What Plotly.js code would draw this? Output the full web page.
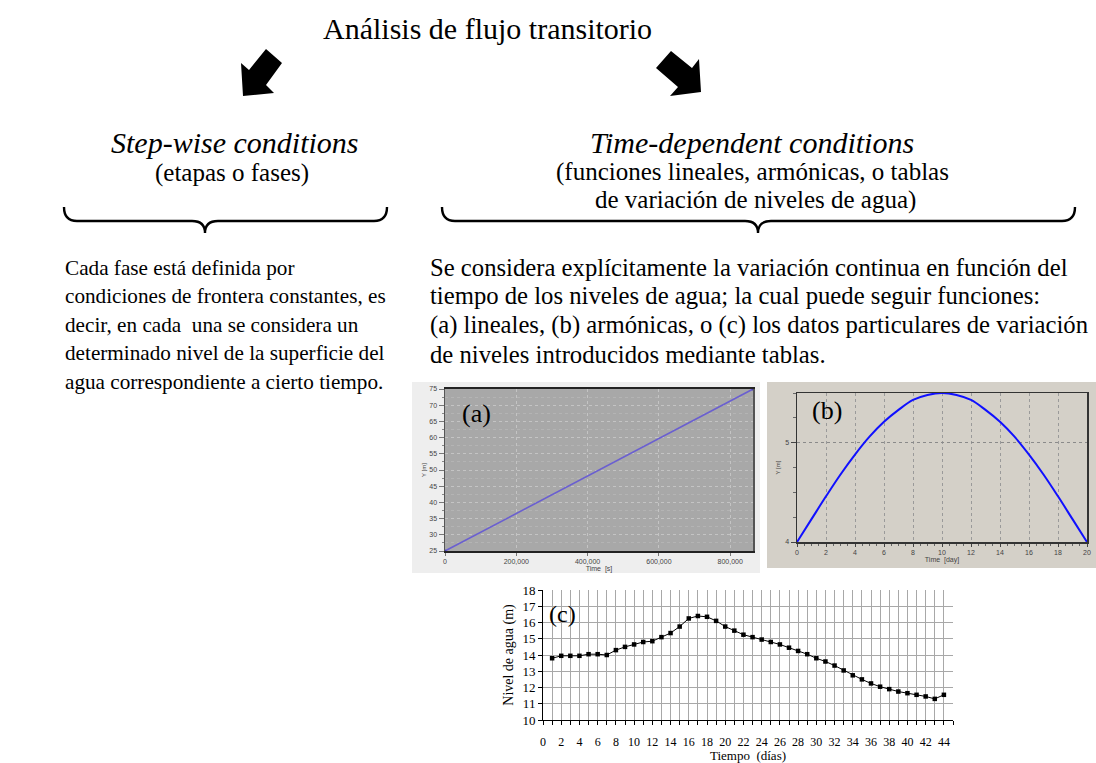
<!DOCTYPE html>
<html>
<head>
<meta charset="utf-8">
<script src="https://cdn.plot.ly/plotly-3.0.1.min.js"></script>
<style>html,body{margin:0;padding:0;background:#fff;}#chart{width:1096px;height:763px;}</style>
</head>
<body>
<div id="chart"></div>
<script>
// ---- data ----
// (a) linear function
const linTime = [0, 864000];
const linLevel = [25, 75];
// (b) harmonic function
const harmDays = [0,1,2,3,4,5,6,7,8,9,10,11,12,13,14,15,16,17,18,19,20];
const harmLevel = [4.00,4.23,4.46,4.68,4.88,5.06,5.21,5.33,5.43,5.48,5.50,5.48,5.43,5.33,5.21,5.06,4.88,4.68,4.46,4.23,4.00];
// (c) tabulated water levels
const tabDays = [1,2,3,4,5,6,7,8,9,10,11,12,13,14,15,16,17,18,19,20,21,22,23,24,25,26,27,28,29,30,31,32,33,34,35,36,37,38,39,40,41,42,43,44];
const tabLevel = [13.8,13.95,13.95,13.95,14.05,14.05,14.0,14.3,14.5,14.65,14.8,14.85,15.1,15.35,15.75,16.25,16.4,16.35,16.1,15.75,15.5,15.25,15.1,14.95,14.8,14.65,14.45,14.25,14.05,13.8,13.6,13.35,13.05,12.75,12.5,12.25,12.05,11.9,11.75,11.65,11.55,11.45,11.3,11.55];
const tabXTicks = [0,2,4,6,8,10,12,14,16,18,20,22,24,26,28,30,32,34,36,38,40,42,44];

const W = 1096, H = 763;
const fx = x => x / W;
const fy = y => 1 - y / H;
const SERIF = 'Liberation Serif, Times New Roman, serif';
const SANS = 'Liberation Sans, Arial, sans-serif';

const traces = [
  {x: linTime, y: linLevel, type: 'scatter', mode: 'lines+markers', xaxis: 'x', yaxis: 'y',
   line: {color: '#6a5fd0', width: 1.6}, marker: {size: 3, color: '#4a40b0'}, hoverinfo: 'skip'},
  {x: harmDays, y: harmLevel, type: 'scatter', mode: 'lines', xaxis: 'x2', yaxis: 'y2',
   line: {color: '#1010ff', width: 2, shape: 'spline'}, hoverinfo: 'skip'},
  {x: tabDays, y: tabLevel, type: 'scatter', mode: 'lines+markers', xaxis: 'x3', yaxis: 'y3',
   line: {color: '#000', width: 1}, marker: {symbol: 'square', size: 4.5, color: '#000'}, hoverinfo: 'skip'}
];

function brace(xL, xR, xT, yTop, yLine, yTip, r) {
  return `M${fx(xL)},${fy(yTop)} Q${fx(xL)},${fy(yLine)} ${fx(xL + r)},${fy(yLine)} ` +
         `L${fx(xT - r)},${fy(yLine)} Q${fx(xT)},${fy(yLine)} ${fx(xT)},${fy(yTip)} ` +
         `Q${fx(xT)},${fy(yLine)} ${fx(xT + r)},${fy(yLine)} L${fx(xR - r)},${fy(yLine)} ` +
         `Q${fx(xR)},${fy(yLine)} ${fx(xR)},${fy(yTop)}`;
}
function poly(pts) {
  return 'M' + pts.map(p => `${fx(p[0])},${fy(p[1])}`).join(' L') + ' Z';
}

const shapes = [
  {type: 'rect', xref: 'paper', yref: 'paper', x0: fx(412), x1: fx(760), y0: fy(573), y1: fy(382),
   fillcolor: '#eeeeee', line: {width: 0}, layer: 'below'},
  {type: 'rect', xref: 'paper', yref: 'paper', x0: fx(767), x1: fx(1096), y0: fy(568), y1: fy(382),
   fillcolor: '#d4d0c8', line: {width: 0}, layer: 'below'},
  {type: 'rect', xref: 'x domain', yref: 'y domain', x0: 0, x1: 1, y0: 0, y1: 1,
   fillcolor: '#a8a8a8', line: {width: 0}, layer: 'below'},
  {type: 'path', xref: 'paper', yref: 'paper',
   path: poly([[241,63],[249,70],[266,49],[282,63],[266,85],[274,93],[243,96]]),
   fillcolor: '#000', line: {width: 0}},
  {type: 'path', xref: 'paper', yref: 'paper',
   path: poly([[656,68],[671,51],[692,68],[699,59],[701,92],[670,96],[678,87]]),
   fillcolor: '#000', line: {width: 0}},
  {type: 'path', xref: 'paper', yref: 'paper', path: brace(64, 387, 205, 207, 221, 233, 13),
   line: {color: '#000', width: 2.4}},
  {type: 'path', xref: 'paper', yref: 'paper', path: brace(442, 1075, 758, 207, 221, 233, 13),
   line: {color: '#000', width: 2.4}}
];

function ann(text, x, y, size, opts) {
  return Object.assign({text: text, xref: 'paper', yref: 'paper', x: fx(x), y: fy(y),
    xanchor: 'center', yanchor: 'middle', showarrow: false,
    font: {family: SERIF, size: size, color: '#000'}}, opts || {});
}
const L = {xanchor: 'left'};

const annotations = [
  ann('Análisis de flujo transitorio', 487, 28, 30),
  ann('<i>Step-wise conditions</i>', 234, 143, 30),
  ann('(etapas o fases)', 232, 173, 25),
  ann('<i>Time-dependent conditions</i>', 752, 143, 30),
  ann('(funciones lineales, armónicas, o tablas', 752, 172, 25),
  ann('de variación de niveles de agua)', 755, 200, 25),
  ann('Cada fase está definida por', 63, 268, 21.2, L),
  ann('condiciones de frontera constantes, es', 63, 296, 21.2, L),
  ann('decir, en cada  una se considera un', 63, 325, 21.2, L),
  ann('determinado nivel de la superficie del', 63, 353, 21.2, L),
  ann('agua correspondiente a cierto tiempo.', 63, 382, 21.2, L),
  ann('Se considera explícitamente la variación continua en función del', 428, 268, 24.7, L),
  ann('tiempo de los niveles de agua; la cual puede seguir funciones:', 428, 296, 24.7, L),
  ann('(a) lineales, (b) armónicas, o (c) los datos particulares de variación', 428, 325, 24.7, L),
  ann('de niveles introducidos mediante tablas.', 428, 354, 24.7, L),
  ann('(a)', 476, 413, 26),
  ann('(b)', 827, 410, 26),
  ann('(c)', 562, 614, 24)
];

const smallFont = {family: SANS, size: 7, color: '#444'};

const layout = {
  width: W, height: H,
  margin: {l: 0, r: 0, t: 0, b: 0, pad: 0},
  paper_bgcolor: '#ffffff',
  plot_bgcolor: 'rgba(0,0,0,0)',
  showlegend: false,
  shapes: shapes,
  annotations: annotations,
  // (a)
  xaxis: {domain: [fx(445), fx(753)], anchor: 'y', range: [0, 864000], tickvals: [0,200000,400000,600000,800000],
    tickformat: ',d', tickfont: smallFont, showgrid: true, gridcolor: '#c4c4c4', griddash: 'dot', gridwidth: 1,
    ticks: 'outside', ticklen: 3, tickcolor: '#777', showline: true, linecolor: '#222', linewidth: 2, mirror: true,
    zeroline: false, title: {text: 'Time  [s]', font: smallFont, standoff: 2}},
  yaxis: {domain: [fy(551), fy(389)], anchor: 'x', range: [25, 75], dtick: 5, tickfont: smallFont,
    showgrid: true, gridcolor: '#c4c4c4', griddash: 'dot',
    minor: {dtick: 2.5, showgrid: true, gridcolor: '#b4b4b4', griddash: 'dot', ticks: 'outside', ticklen: 2, tickcolor: '#888'},
    ticks: 'outside', ticklen: 5, tickcolor: '#777', showline: true, linecolor: '#555', linewidth: 1.5, mirror: true,
    zeroline: false, title: {text: 'Y [m]', font: {family: SANS, size: 6, color: '#444'}, standoff: 2}},
  // (b)
  xaxis2: {domain: [fx(797), fx(1087)], anchor: 'y2', range: [0, 20], dtick: 2, tickfont: smallFont,
    showgrid: true, gridcolor: '#9a9a9a', griddash: 'dot', gridwidth: 1,
    ticks: 'outside', ticklen: 3, tickcolor: '#444', minor: {dtick: 0.5, ticks: 'outside', ticklen: 2, tickcolor: '#666'},
    showline: true, linecolor: '#333', linewidth: 1.5, mirror: true, zeroline: false,
    title: {text: 'Time  [day]', font: smallFont, standoff: 2}},
  yaxis2: {domain: [fy(542), fy(393)], anchor: 'x2', range: [4, 5.5], tickvals: [4, 5], tickfont: smallFont,
    showgrid: true, gridcolor: '#8a8a8a', griddash: 'dot',
    ticks: 'outside', ticklen: 5, tickcolor: '#444', minor: {dtick: 0.25, ticks: 'outside', ticklen: 3, tickcolor: '#666'},
    showline: true, linecolor: '#333', linewidth: 1.5, mirror: true, zeroline: false,
    title: {text: 'Y [m]', font: {family: SANS, size: 6, color: '#444'}, standoff: 4}},
  // (c)
  xaxis3: {domain: [fx(543), fx(953)], anchor: 'y3', range: [0, 45], tickvals: tabXTicks,
    tickfont: {family: SERIF, size: 12, color: '#000'}, ticklabelstandoff: 7,
    showgrid: true, gridcolor: '#a8a8a8', gridwidth: 1,
    minor: {dtick: 1, showgrid: true, gridcolor: '#a8a8a8', ticks: 'outside', ticklen: 4, tickcolor: '#000'},
    ticks: 'outside', ticklen: 4, tickcolor: '#000', showline: true, linecolor: '#000', linewidth: 1, mirror: false,
    zeroline: false, title: {text: 'Tiempo  (días)', font: {family: SERIF, size: 13, color: '#000'}, standoff: 1}},
  yaxis3: {domain: [fy(720), fy(590)], anchor: 'x3', range: [10, 18], dtick: 1,
    tickfont: {family: SERIF, size: 13, color: '#000'},
    showgrid: true, gridcolor: '#a8a8a8', gridwidth: 1,
    ticks: 'outside', ticklen: 4, tickcolor: '#000', showline: true, linecolor: '#000', linewidth: 1,
    zeroline: false, title: {text: 'Nivel de agua (m)', font: {family: SERIF, size: 14, color: '#000'}, standoff: 5}}
};

Plotly.newPlot('chart', traces, layout, {displayModeBar: false, staticPlot: true});
</script>
</body>
</html>
